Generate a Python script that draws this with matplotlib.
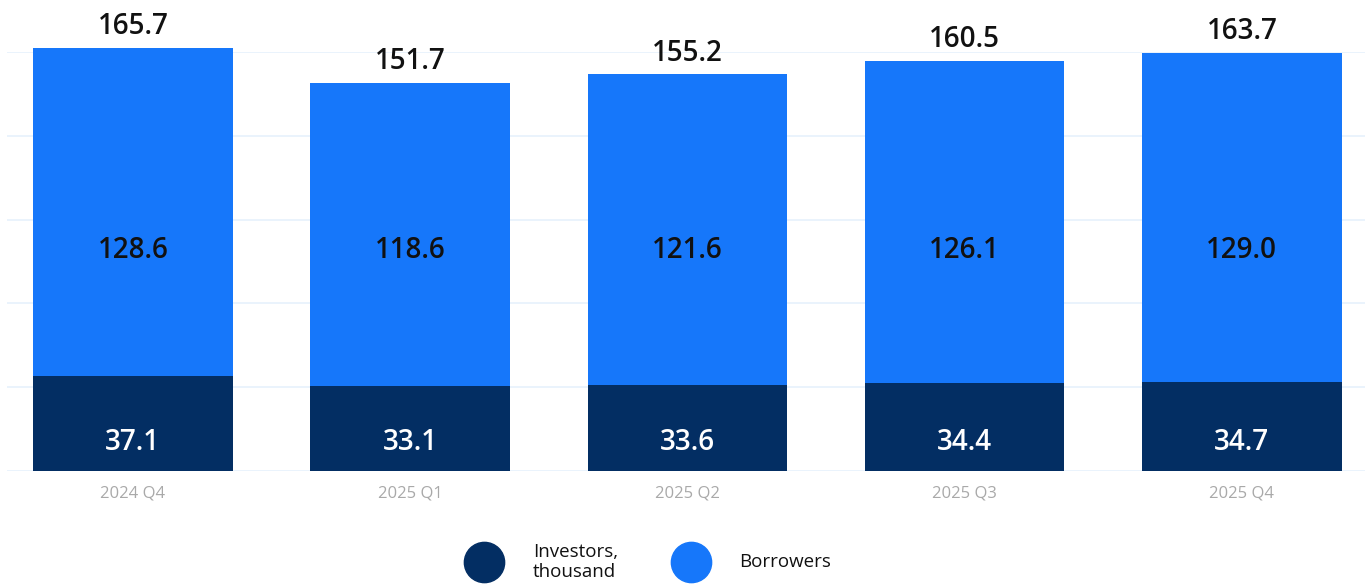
import matplotlib.pyplot as plt
from matplotlib.lines import Line2D

plt.rcParams['font.family'] = ['Open Sans', 'DejaVu Sans']

quarters = ["2024 Q4", "2025 Q1", "2025 Q2", "2025 Q3", "2025 Q4"]
investors = [37.1, 33.1, 33.6, 34.4, 34.7]
borrowers = [128.6, 118.6, 121.6, 126.1, 129.0]
totals = [165.7, 151.7, 155.2, 160.5, 163.7]

dark_blue = "#032e63"
light_blue = "#1677fa"

fig = plt.figure(figsize=(13.7, 5.84), dpi=100)
ax = fig.add_axes([7 / 1370, 113 / 584, 1358 / 1370, 419 / 584])

x = list(range(len(quarters)))
ax.bar(x, investors, width=0.72, color=dark_blue, zorder=2)
ax.bar(x, borrowers, width=0.72, bottom=investors, color=light_blue, zorder=2, clip_on=False)

ymax = 164
ax.set_ylim(0, ymax)
ax.set_xlim(-0.454, 4.444)
ax.set_yticks([ymax * i / 5 for i in range(6)])
ax.yaxis.grid(True, color="#e6f1fc", linewidth=1.2, zorder=0)
ax.tick_params(axis="y", left=False, labelleft=False)
ax.tick_params(axis="x", bottom=False, pad=7, labelsize=12, labelcolor="#a9a9a9")
ax.set_xticks(x)
ax.set_xticklabels(quarters)
for s in ax.spines.values():
    s.set_visible(False)

# value labels: totals above the bars, segment values at fixed heights
for i in x:
    ax.annotate(f"{totals[i]:.1f}", (i, totals[i]), xytext=(0, 5), textcoords="offset points",
                ha="center", va="bottom", fontsize=20, fontweight="semibold", color="#111111",
                annotation_clip=False)
    ax.text(i, 0.527, f"{borrowers[i]:.1f}", transform=ax.get_xaxis_transform(),
            ha="center", va="center", fontsize=20, fontweight="semibold", color="#111111")
    ax.text(i, 0.068, f"{investors[i]:.1f}", transform=ax.get_xaxis_transform(),
            ha="center", va="center", fontsize=20, fontweight="semibold", color="white")

# legend drawn by hand below the axis
fig.add_artist(Line2D([484 / 1370], [1 - 562 / 584], marker="o", markersize=29,
                      color=dark_blue, linestyle="none", transform=fig.transFigure))
fig.add_artist(Line2D([691 / 1370], [1 - 562 / 584], marker="o", markersize=29,
                      color=light_blue, linestyle="none", transform=fig.transFigure))
fig.text(533 / 1370, 1 - 562 / 584, "Investors,\nthousand", ha="left", va="center",
         fontsize=13.5, color="#111111", linespacing=1.1)
fig.text(739 / 1370, 1 - 562 / 584, "Borrowers", ha="left", va="center",
         fontsize=13.5, color="#111111")

fig.savefig("out.png", dpi=100)
